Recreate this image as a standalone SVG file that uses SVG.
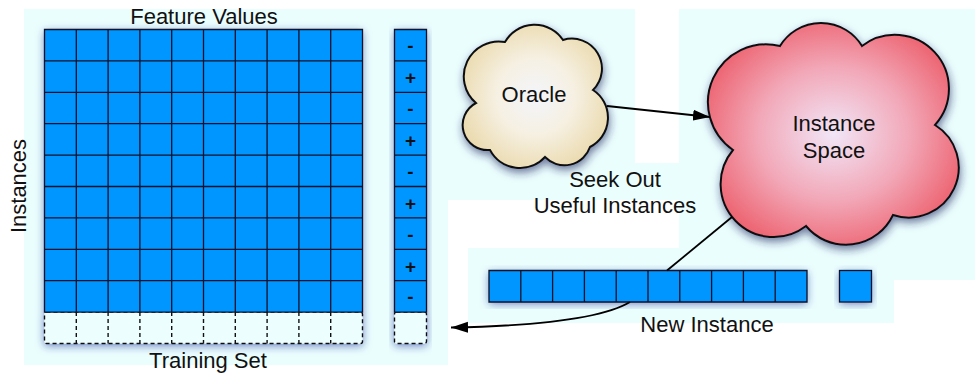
<svg xmlns="http://www.w3.org/2000/svg" width="975" height="373" viewBox="0 0 975 373">
<defs>
<style>
.bg{fill:#ebfefe}
.cell{fill:#0096ff}
.grid{fill:none;stroke:#101028;stroke-width:1.3}
.dash{fill:#edfefe;stroke:#111;stroke-width:1.4;stroke-dasharray:4 3}
.dashl{fill:none;stroke:#111;stroke-width:1.4;stroke-dasharray:4 3}
.lbl{font-family:"Liberation Sans",Arial,Helvetica,sans-serif;font-size:22px;fill:#111;text-anchor:middle}
.sign{font-family:"Liberation Sans",Arial,Helvetica,sans-serif;font-size:19px;font-weight:bold;fill:#111;text-anchor:middle}
.cloud{stroke:#111;stroke-width:2}
.conn{fill:none;stroke:#000;stroke-width:1.8}
</style>
<filter id="glow" x="-15%" y="-15%" width="130%" height="135%">
<feDropShadow dx="0" dy="2" stdDeviation="4" flood-color="#1a3399" flood-opacity="0.6"/>
</filter>
<filter id="csh" x="-15%" y="-15%" width="130%" height="135%">
<feDropShadow dx="1" dy="4" stdDeviation="4" flood-color="#1a2560" flood-opacity="0.6"/>
</filter>
<radialGradient id="gO" cx="0.5" cy="0.5" r="0.6">
<stop offset="0" stop-color="#f3f5fb"/>
<stop offset="0.45" stop-color="#f6f0e2"/>
<stop offset="1" stop-color="#e8d6a4"/>
</radialGradient>
<radialGradient id="gI" cx="0.5" cy="0.5" r="0.6">
<stop offset="0" stop-color="#f1e6f7"/>
<stop offset="0.5" stop-color="#f2a8b8"/>
<stop offset="1" stop-color="#ec5663"/>
</radialGradient>
<marker id="ah" markerUnits="userSpaceOnUse" markerWidth="18" markerHeight="12" refX="17" refY="6" orient="auto">
<path d="M0,0.5 L17,6 L0,11.5 z" fill="#000"/>
</marker>
</defs>

<g id="backdrops">
<rect class="bg" x="24" y="9" width="424" height="356"/>
<rect class="bg" x="448" y="9" width="187" height="191"/>
<rect class="bg" x="560" y="163" width="119" height="37"/>
<rect class="bg" x="679" y="9" width="296" height="271"/>
<rect class="bg" x="468" y="248" width="426" height="75"/>
</g>

<g id="training-set">
<g filter="url(#glow)">
<rect class="dash" x="44.5" y="312.1" width="318" height="31.4" rx="2"/>
<rect class="cell" x="44.5" y="29.5" width="318" height="282.6"/>
</g>
<path class="grid" d="M44.5,29.5H362.5V312.1H44.5Z M76.3,29.5V312.1 M108.1,29.5V312.1 M139.9,29.5V312.1 M171.7,29.5V312.1 M203.5,29.5V312.1 M235.3,29.5V312.1 M267.1,29.5V312.1 M298.9,29.5V312.1 M330.7,29.5V312.1 M44.5,60.9H362.5 M44.5,92.3H362.5 M44.5,123.7H362.5 M44.5,155.1H362.5 M44.5,186.5H362.5 M44.5,217.9H362.5 M44.5,249.3H362.5 M44.5,280.7H362.5"/>
<path class="dashl" d="M76.3,312.1V343.5 M108.1,312.1V343.5 M139.9,312.1V343.5 M171.7,312.1V343.5 M203.5,312.1V343.5 M235.3,312.1V343.5 M267.1,312.1V343.5 M298.9,312.1V343.5 M330.7,312.1V343.5"/>
<text class="lbl" x="204" y="24">Feature Values</text>
<text class="lbl" x="208" y="368">Training Set</text>
<text class="lbl" transform="translate(26,186) rotate(-90)">Instances</text>
</g>

<g id="labels">
<g filter="url(#glow)">
<rect class="dash" x="394.5" y="312.1" width="32" height="31.4" rx="2"/>
<rect class="cell" x="394.5" y="29.5" width="32" height="282.6"/>
</g>
<path class="grid" d="M394.5,29.5H426.5V312.1H394.5Z M394.5,60.9H426.5 M394.5,92.3H426.5 M394.5,123.7H426.5 M394.5,155.1H426.5 M394.5,186.5H426.5 M394.5,217.9H426.5 M394.5,249.3H426.5 M394.5,280.7H426.5"/>
<text class="sign" x="410.5" y="52.2">-</text>
<text class="sign" x="410.5" y="84.1">+</text>
<text class="sign" x="410.5" y="115">-</text>
<text class="sign" x="410.5" y="146.9">+</text>
<text class="sign" x="410.5" y="177.8">-</text>
<text class="sign" x="410.5" y="209.7">+</text>
<text class="sign" x="410.5" y="240.6">-</text>
<text class="sign" x="410.5" y="272.5">+</text>
<text class="sign" x="410.5" y="303.4">-</text>
</g>

<g id="oracle">
<path class="cloud" fill="url(#gO)" filter="url(#csh)" d="M476,103 A35,35 0 0 1 505,42 A34,34 0 0 1 563,40 A30,30 0 0 1 593,90 A33,33 0 0 1 590,147 A27,27 0 0 1 545,157 A34,34 0 0 1 490,150 A25,25 0 0 1 476,103 Z"/>
<text class="lbl" x="534" y="102">Oracle</text>
</g>

<g id="seek-label">
<text class="lbl" x="615" y="187">Seek Out</text>
<text class="lbl" x="615" y="213">Useful Instances</text>
</g>

<g id="instance-space">
<path class="cloud" fill="url(#gI)" filter="url(#csh)" d="M733,150 A58,58 0 0 1 780,46 A48,48 0 0 1 862,46 A54,54 0 0 1 935,125 A50,50 0 0 1 893,215 A52,52 0 0 1 806,226 A53,53 0 0 1 733,150 Z"/>
<text class="lbl" x="834" y="131">Instance</text>
<text class="lbl" x="834" y="158">Space</text>
</g>

<g id="new-instance">
<g filter="url(#glow)">
<rect class="cell" x="489" y="270.5" width="318" height="31.5"/>
</g>
<path class="grid" d="M489,270.5H807V302H489Z M520.8,270.5V302 M552.6,270.5V302 M584.4,270.5V302 M616.2,270.5V302 M648,270.5V302 M679.8,270.5V302 M711.6,270.5V302 M743.4,270.5V302 M775.2,270.5V302"/>
<text class="lbl" x="707" y="332">New Instance</text>
</g>

<g id="new-label">
<rect class="cell" filter="url(#glow)" x="839.5" y="270.5" width="32" height="31.5"/>
<rect class="grid" x="839.5" y="270.5" width="32" height="31.5"/>
</g>

<g id="connectors">
<path class="conn" d="M607,106 L710,117" marker-end="url(#ah)"/>
<path class="conn" d="M732,217 L667,270.5"/>
<path class="conn" d="M630,302 C600,320 530,326 451,327.5" marker-end="url(#ah)"/>
</g>
</svg>
